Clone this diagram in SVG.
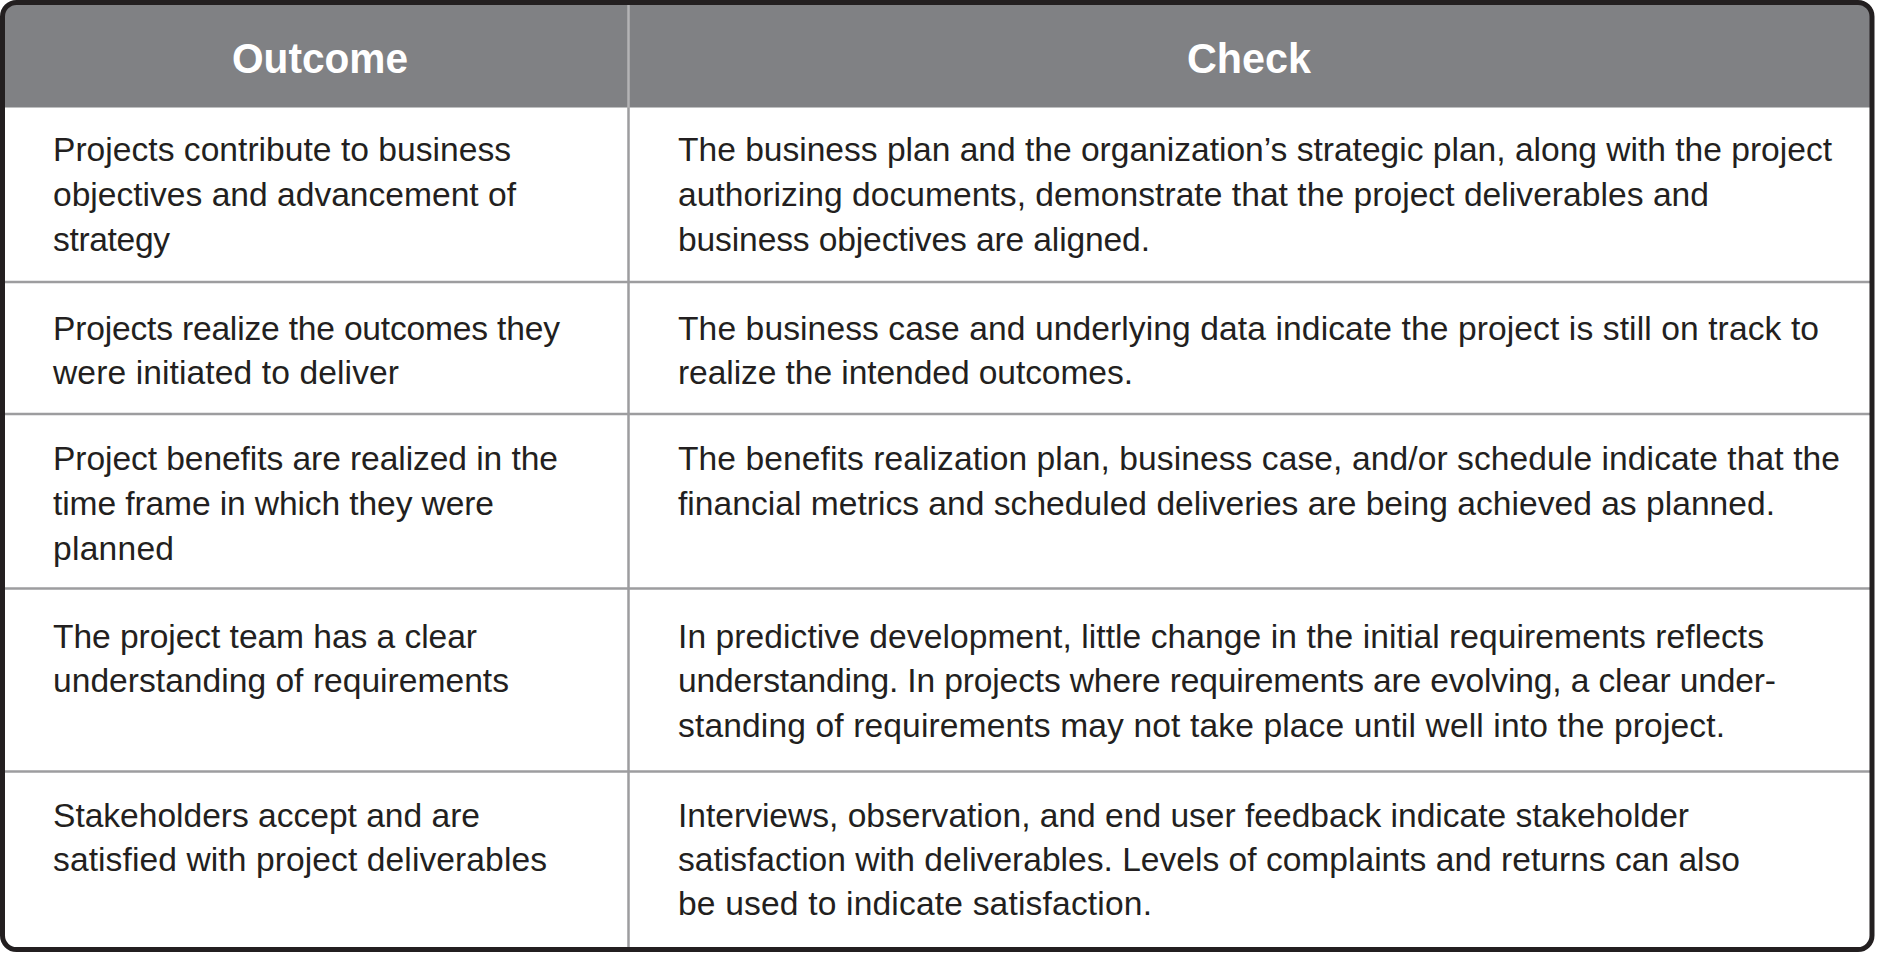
<svg xmlns="http://www.w3.org/2000/svg" width="1877" height="953" viewBox="0 0 1877 953">
<style>
.hdr{font-family:"Liberation Sans",Arial,sans-serif;font-weight:bold;font-size:42px;fill:#ffffff;text-anchor:middle}
.t{font-family:"Liberation Sans",Arial,sans-serif;font-size:33.6px;fill:#231f20}
.grid{stroke:#9d9d9f;stroke-width:2.5;fill:none}
.hgrid{stroke:#b3b3b5;stroke-width:2.5;fill:none}
</style>
<rect x="0" y="0" width="1877" height="953" fill="#ffffff"/>
<g id="header">
<path d="M2.5,107.5 V16.5 A14,14 0 0 1 16.5,2.5 H1858 A14,14 0 0 1 1872,16.5 V107.5 Z" fill="#808184"/>
<text class="hdr" x="320" y="73" textLength="176" lengthAdjust="spacingAndGlyphs">Outcome</text>
<text class="hdr" x="1249" y="73" textLength="124" lengthAdjust="spacingAndGlyphs">Check</text>
</g>
<g id="gridlines">
<line class="hgrid" x1="628.5" y1="4" x2="628.5" y2="107.5"/>
<line class="grid" x1="628.5" y1="107.5" x2="628.5" y2="948"/>
<line class="grid" x1="4" y1="282" x2="1870" y2="282"/>
<line class="grid" x1="4" y1="414" x2="1870" y2="414"/>
<line class="grid" x1="4" y1="588.5" x2="1870" y2="588.5"/>
<line class="grid" x1="4" y1="771.5" x2="1870" y2="771.5"/>
</g>
<g id="row1">
<g id="row1-outcome">
<text class="t" x="53" y="161" textLength="458">Projects contribute to business</text>
<text class="t" x="53" y="206" textLength="463">objectives and advancement of</text>
<text class="t" x="53" y="251" textLength="117">strategy</text>
</g>
<g id="row1-check">
<text class="t" x="678" y="161" textLength="1154">The business plan and the organization’s strategic plan, along with the project</text>
<text class="t" x="678" y="206" textLength="1031">authorizing documents, demonstrate that the project deliverables and</text>
<text class="t" x="678" y="251" textLength="472">business objectives are aligned.</text>
</g>
</g>
<g id="row2">
<g id="row2-outcome">
<text class="t" x="53" y="340" textLength="507">Projects realize the outcomes they</text>
<text class="t" x="53" y="384" textLength="346">were initiated to deliver</text>
</g>
<g id="row2-check">
<text class="t" x="678" y="340" textLength="1141">The business case and underlying data indicate the project is still on track to</text>
<text class="t" x="678" y="384" textLength="455">realize the intended outcomes.</text>
</g>
</g>
<g id="row3">
<g id="row3-outcome">
<text class="t" x="53" y="470" textLength="505">Project benefits are realized in the</text>
<text class="t" x="53" y="515" textLength="441">time frame in which they were</text>
<text class="t" x="53" y="560" textLength="121">planned</text>
</g>
<g id="row3-check">
<text class="t" x="678" y="470" textLength="1162">The benefits realization plan, business case, and/or schedule indicate that the</text>
<text class="t" x="678" y="515" textLength="1097">financial metrics and scheduled deliveries are being achieved as planned.</text>
</g>
</g>
<g id="row4">
<g id="row4-outcome">
<text class="t" x="53" y="648" textLength="424">The project team has a clear</text>
<text class="t" x="53" y="692" textLength="456">understanding of requirements</text>
</g>
<g id="row4-check">
<text class="t" x="678" y="648" textLength="1086">In predictive development, little change in the initial requirements reflects</text>
<text class="t" x="678" y="692" textLength="1098">understanding. In projects where requirements are evolving, a clear under-</text>
<text class="t" x="678" y="737" textLength="1047">standing of requirements may not take place until well into the project.</text>
</g>
</g>
<g id="row5">
<g id="row5-outcome">
<text class="t" x="53" y="827" textLength="427">Stakeholders accept and are</text>
<text class="t" x="53" y="871" textLength="494">satisfied with project deliverables</text>
</g>
<g id="row5-check">
<text class="t" x="678" y="827" textLength="1011">Interviews, observation, and end user feedback indicate stakeholder</text>
<text class="t" x="678" y="871" textLength="1062">satisfaction with deliverables. Levels of complaints and returns can also</text>
<text class="t" x="678" y="915" textLength="474">be used to indicate satisfaction.</text>
</g>
</g>
<g id="frame">
<rect x="2.5" y="2.5" width="1869.5" height="947" rx="14" ry="14" fill="none" stroke="#231f20" stroke-width="5"/>
</g>
</svg>
